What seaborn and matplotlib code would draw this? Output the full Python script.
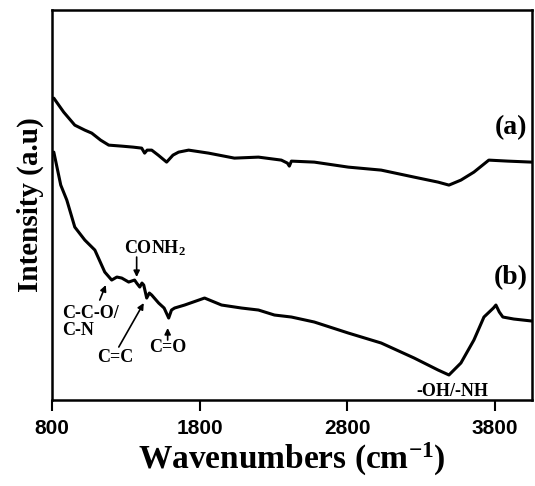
import matplotlib
matplotlib.use("Agg")
import matplotlib.pyplot as plt
import seaborn as sns
import pandas as pd

# Data (wavenumber, intensity in arbitrary units)
wn_a = [813, 880, 955, 1023, 1070, 1130, 1185, 1273, 1350, 1408, 1428, 1445, 1476, 1520,
        1577, 1620, 1658, 1726, 1861, 2036, 2199, 2354, 2395, 2408, 2422, 2577, 2807, 3030,
        3253, 3415, 3489, 3570, 3658, 3759, 3888, 4050]
int_a = [302, 288, 275, 270, 267, 260, 255, 254, 253, 252, 247, 250, 250, 245,
         238, 245, 248, 250, 247, 242, 243, 240, 237, 234, 239, 238, 233, 230,
         223, 218, 215, 220, 228, 240, 239, 238]

wn_b = [813, 860, 901, 955, 1023, 1091, 1158, 1205, 1240, 1273, 1320, 1360, 1374, 1395,
        1410, 1422, 1442, 1460, 1476, 1523, 1560, 1591, 1610, 1631, 1699, 1834, 1949, 2084,
        2199, 2307, 2422, 2577, 2807, 3030, 3253, 3415, 3489, 3570, 3658, 3726, 3790, 3807,
        3830, 3854, 3928, 4050]
int_b = [248, 215, 200, 173, 160, 150, 128, 120, 123, 122, 118, 120, 117, 113,
         117, 115, 102, 107, 105, 97, 92, 82, 90, 92, 95, 102, 95, 92,
         90, 85, 83, 78, 67, 57, 42, 30, 25, 37, 60, 83, 92, 95,
         88, 83, 81, 79]

xticks = [800, 1800, 2800, 3800]

sns.set_style("white")
plt.rcParams['font.family'] = ['Liberation Serif', 'DejaVu Serif']
plt.rcParams['mathtext.default'] = 'regular'
plt.rcParams['text.color'] = 'black'
plt.rcParams['axes.labelcolor'] = 'black'
plt.rcParams['xtick.color'] = 'black'

df = pd.concat([
    pd.DataFrame({"wn": wn_a, "I": int_a, "s": "a"}),
    pd.DataFrame({"wn": wn_b, "I": int_b, "s": "b"}),
])

fig = plt.figure(figsize=(5.35, 4.86), dpi=100)
ax = fig.add_axes([0.097, 0.177, 0.897, 0.802])
sns.lineplot(data=df, x="wn", y="I", units="s", estimator=None, color="black",
             linewidth=2.2, ax=ax, sort=False)

ax.set_xlim(800, 4050)
ax.set_ylim(0, 390)
ax.set_xticks(xticks)
ax.set_xticklabels([str(t) for t in xticks], fontfamily='Liberation Sans',
                   fontweight='bold', fontsize=15, color='black')
ax.set_yticks([])
ax.tick_params(axis='x', direction='out', length=8, width=1.5, bottom=True, pad=6,
               colors='black')
for sp in ax.spines.values():
    sp.set_linewidth(1.8)
    sp.set_color('black')

ax.set_xlabel("Wavenumbers (cm$^{-1}$)", fontsize=24, fontweight='bold', labelpad=2,
              color='black')
ax.set_ylabel("Intensity (a.u)", fontsize=21, fontweight='bold', labelpad=6, color='black')

tk = dict(fontsize=13, fontweight='bold', ha='center', va='center', color='black')
ap = dict(arrowstyle='-|>', color='black', lw=1.2, mutation_scale=9, shrinkA=0, shrinkB=0)

ax.text(3908, 273, "(a)", fontsize=20, fontweight='bold', ha='center', va='center',
        color='black')
ax.text(3908, 122, "(b)", fontsize=20, fontweight='bold', ha='center', va='center',
        color='black')

ax.text(1496, 152, "CONH$_2$", **tk)
ax.annotate("", xy=(1374, 123), xytext=(1374, 143), arrowprops=ap)

ax.text(868, 78, "C-C-O/\nC-N", fontsize=13, fontweight='bold', ha='left', va='center',
        linespacing=0.95, color='black')
ax.annotate("", xy=(1165, 115), xytext=(1124, 100), arrowprops=ap)

ax.text(1232, 43, "C=C", **tk)
ax.annotate("", xy=(1422, 97), xytext=(1253, 53), arrowprops=ap)

ax.text(1584, 53, "C=O", **tk)
ax.annotate("", xy=(1584, 72), xytext=(1584, 60), arrowprops=ap)

ax.text(3509, 8, "-OH/-NH", **tk)

fig.savefig("out.png", dpi=100)
